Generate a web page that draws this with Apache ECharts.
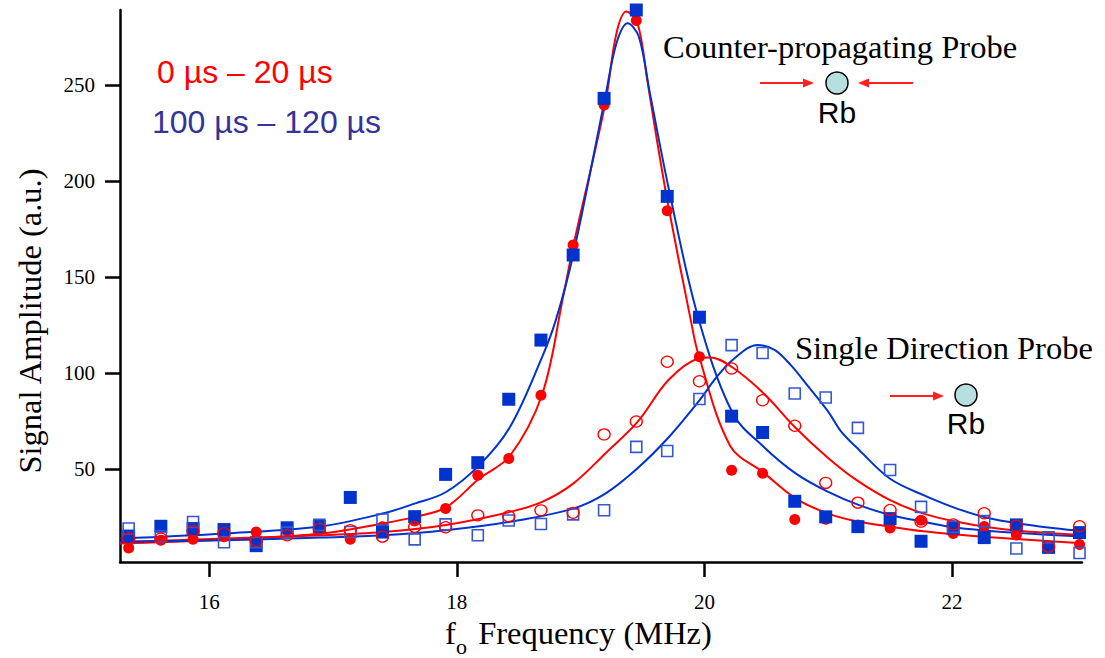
<!DOCTYPE html>
<html>
<head>
<meta charset="utf-8">
<script src="https://cdn.jsdelivr.net/npm/echarts@6/dist/echarts.min.js"></script>
<style>html,body{margin:0;padding:0;background:#fff;}#c{width:1105px;height:658px;}</style>
</head>
<body>
<div id="c"></div>
<script>
// ---- data ----
const freq = [15.35, 15.61, 15.87, 16.12, 16.38, 16.63, 16.89, 17.14, 17.40, 17.66, 17.91, 18.17, 18.42, 18.68, 18.94, 19.19, 19.45, 19.70, 19.96, 20.22, 20.47, 20.73, 20.98, 21.24, 21.50, 21.75, 22.01, 22.26, 22.52, 22.78, 23.03];
// counter-propagating probe, 0-20 us (red filled circles)
const counterEarly = [9.0, 13.0, 13.5, 14.8, 17.3, 18.0, 19.0, 13.5, 20.0, 23.0, 29.6, 46.9, 55.6, 88.5, 166.7, 239.6, 283.5, 184.5, 108.5, 49.5, 47.9, 23.8, 24.0, 21.0, 19.4, 23.4, 16.5, 20.2, 15.8, 9.5, 10.8];
// counter-propagating probe, 100-120 us (blue filled squares)
const counterLate = [15.2, 20.3, 19.1, 18.6, 10.2, 19.5, 20.2, 35.3, 17.3, 25.3, 47.3, 53.4, 86.4, 117.2, 161.5, 243.0, 289.0, 192.0, 129.1, 77.6, 69.1, 33.3, 25.2, 20.1, 24.3, 12.5, 19.4, 14.4, 21.0, 9.3, 17.0];
// single direction probe, 0-20 us (red open circles)
const singleEarly = [13.9, 13.9, 17.8, 16.7, 12.6, 15.6, 18.9, 18.2, 14.9, 20.0, 19.8, 26.0, 25.5, 28.6, 27.3, 68.1, 74.8, 105.9, 95.8, 102.4, 85.9, 72.6, 42.9, 32.6, 28.8, 22.7, 21.2, 27.1, 20.6, 9.7, 20.3];
// single direction probe, 100-120 us (blue open squares)
const singleLate = [19.1, 15.0, 22.5, 12.0, 12.0, 17.0, 21.0, 17.3, 23.8, 13.5, 21.3, 15.6, 23.3, 21.5, 26.5, 28.6, 61.6, 59.5, 86.5, 114.6, 110.5, 89.4, 87.3, 71.5, 49.6, 30.4, 20.0, 23.0, 8.7, 14.5, 6.4];

// fitted curves
const fitCeX = [15.28, 16.13, 16.91, 17.40, 17.66, 17.91, 18.18, 18.43, 18.69, 18.86, 18.94, 19.20, 19.29, 19.37, 19.46, 19.54, 19.62, 19.71, 19.89, 19.95, 20.21, 20.48, 20.74, 21.00, 21.25, 21.51, 21.77, 22.02, 22.28, 22.58, 23.05];
const fitCeY = [11.3, 13.4, 16.5, 21.7, 25.2, 30.0, 45.0, 57.0, 89.0, 140.0, 165.8, 240.6, 276.9, 288.2, 282.1, 252.0, 220.0, 186.6, 127.6, 110.2, 62.0, 48.1, 34.7, 26.9, 22.6, 20.0, 17.7, 16.1, 14.7, 13.4, 11.5];
const fitClX = [15.28, 16.13, 16.91, 17.40, 17.66, 17.91, 18.18, 18.43, 18.69, 18.80, 18.94, 19.20, 19.29, 19.38, 19.47, 19.56, 19.72, 19.95, 20.23, 20.48, 20.74, 21.00, 21.25, 21.51, 21.77, 22.02, 22.28, 22.58, 23.05];
const fitClY = [13.9, 16.5, 20.3, 26.9, 32.1, 38.0, 52.0, 72.0, 108.5, 127.6, 161.5, 243.9, 271.7, 282.1, 275.2, 245.7, 193.6, 129.0, 79.0, 61.6, 47.7, 38.2, 31.3, 26.0, 22.6, 19.6, 18.0, 16.6, 15.0];
const fitSeX = [15.28, 16.13, 16.91, 17.40, 17.91, 18.43, 18.69, 18.94, 19.20, 19.46, 19.71, 19.95, 20.05, 20.22, 20.48, 20.73, 20.99, 21.23, 21.50, 21.77, 22.04, 22.31, 22.58, 23.05];
const fitSeY = [12.1, 13.9, 15.6, 17.3, 21.0, 27.8, 33.0, 42.5, 58.2, 74.6, 96.4, 107.6, 108.2, 103.3, 89.4, 72.0, 56.4, 44.3, 33.9, 26.9, 22.6, 19.6, 17.7, 15.7];
const fitSlX = [15.28, 16.13, 16.91, 17.40, 17.91, 18.43, 18.94, 19.20, 19.46, 19.71, 19.95, 20.10, 20.23, 20.43, 20.57, 20.70, 20.84, 21.00, 21.10, 21.25, 21.50, 21.77, 22.04, 22.31, 22.58, 22.85, 23.05];
const fitSlY = [12.3, 13.0, 14.4, 15.6, 18.2, 22.6, 29.5, 37.3, 50.5, 66.5, 85.0, 98.0, 107.0, 114.6, 112.0, 104.0, 93.0, 80.0, 70.0, 60.0, 45.0, 36.5, 29.5, 24.3, 21.4, 19.1, 17.8];

const xTicks = [16, 18, 20, 22];
const yTicks = [50, 100, 150, 200, 250];
const legendTexts = ['0 µs – 20 µs', '100 µs – 120 µs'];

// ---- chart ----
const RED = '#ff0000';
const BLUE = '#0033cc';
const BLUE_OPEN = '#3358d0';
const SERIF = "'Liberation Serif', 'Times New Roman', serif";
const SANS = "'Liberation Sans', Arial, sans-serif";

const pairs = (xs, ys) => xs.map((x, i) => [x, ys[i]]);

const chart = echarts.init(document.getElementById('c'), null, {renderer: 'svg'});

function arrow(x1, x2, y) {
  const dir = x2 > x1 ? 1 : -1;
  const head = 11, hw = 4.5;
  return [
    {type: 'line', shape: {x1: x1, y1: y, x2: x2 - dir * head, y2: y}, style: {stroke: '#ff2020', lineWidth: 2}},
    {type: 'polygon', shape: {points: [[x2, y], [x2 - dir * head, y - hw], [x2 - dir * head, y + hw]]}, style: {fill: '#ff2020'}}
  ];
}

const lineSeries = (data, color) => ({
  type: 'line', data: data, smooth: 0.35, symbol: 'none',
  lineStyle: {color: color, width: 2}, z: 2, silent: true
});

chart.setOption({
  animation: false,
  backgroundColor: '#fff',
  grid: {left: 120, right: 23, top: 10, bottom: 96},
  xAxis: {
    type: 'value', min: 15.28, max: 23.05,
    axisLine: {show: true, onZero: false, lineStyle: {color: '#000', width: 2.5}},
    axisTick: {show: true, inside: false, length: 15, lineStyle: {color: '#000', width: 2.5}, customValues: xTicks},
    axisLabel: {show: true, margin: 29, color: '#000', fontFamily: 'Liberation Serif', fontSize: 21, customValues: xTicks},
    splitLine: {show: false}
  },
  yAxis: {
    type: 'value', min: 1.7, max: 289,
    axisLine: {show: true, onZero: false, lineStyle: {color: '#000', width: 2.5}},
    axisTick: {show: true, inside: false, length: 15, lineStyle: {color: '#000', width: 2.5}, customValues: yTicks},
    axisLabel: {show: true, margin: 25, color: '#000', fontFamily: 'Liberation Serif', fontSize: 21, customValues: yTicks},
    splitLine: {show: false}
  },
  graphic: [
    {type: 'text', x: 30, y: 321, rotation: Math.PI / 2, style: {text: 'Signal Amplitude (a.u.)', font: '32.5px ' + SERIF, fill: '#000', align: 'center', verticalAlign: 'middle'}},
    {type: 'text', x: 445, y: 633, style: {text: 'f', font: '32.5px ' + SERIF, fill: '#000', align: 'left', verticalAlign: 'middle'}},
    {type: 'text', x: 456, y: 646, style: {text: 'o', font: '22px ' + SERIF, fill: '#000', align: 'left', verticalAlign: 'middle'}},
    {type: 'text', x: 470, y: 633, style: {text: ' Frequency (MHz)', font: '32.5px ' + SERIF, fill: '#000', align: 'left', verticalAlign: 'middle'}},
    {type: 'text', x: 157, y: 72, style: {text: legendTexts[0], font: '32px ' + SANS, fill: RED, align: 'left', verticalAlign: 'middle'}},
    {type: 'text', x: 152, y: 122, style: {text: legendTexts[1], font: '32px ' + SANS, fill: '#333399', align: 'left', verticalAlign: 'middle'}},
    {type: 'text', x: 663, y: 47, style: {text: 'Counter-propagating Probe', font: '32.5px ' + SERIF, fill: '#000', align: 'left', verticalAlign: 'middle'}},
    {type: 'text', x: 795, y: 348, style: {text: 'Single Direction Probe', font: '32.5px ' + SERIF, fill: '#000', align: 'left', verticalAlign: 'middle'}},
    {type: 'circle', shape: {cx: 837, cy: 83, r: 11}, style: {fill: '#b8dfe0', stroke: '#000', lineWidth: 1.5}},
    {type: 'circle', shape: {cx: 966, cy: 395, r: 11}, style: {fill: '#b8dfe0', stroke: '#000', lineWidth: 1.5}},
    {type: 'text', x: 837, y: 112, style: {text: 'Rb', font: '30px ' + SANS, fill: '#000', align: 'center', verticalAlign: 'middle'}},
    {type: 'text', x: 966, y: 423, style: {text: 'Rb', font: '30px ' + SANS, fill: '#000', align: 'center', verticalAlign: 'middle'}}
  ].concat(arrow(760, 814, 83), arrow(913, 858, 83), arrow(890, 944, 396)),
  series: [
    lineSeries(pairs(fitCeX, fitCeY), RED),
    lineSeries(pairs(fitClX, fitClY), BLUE),
    lineSeries(pairs(fitSeX, fitSeY), RED),
    lineSeries(pairs(fitSlX, fitSlY), BLUE),
    {type: 'scatter', data: pairs(freq, counterEarly), symbol: 'circle', symbolSize: 11, clip: false, z: 3,
     itemStyle: {color: RED, opacity: 1}},
    {type: 'scatter', data: pairs(freq, counterLate), symbol: 'rect', symbolSize: 13, clip: false, z: 4,
     itemStyle: {color: BLUE, opacity: 1}},
    {type: 'scatter', data: pairs(freq, singleLate), symbol: 'rect', symbolSize: 11, clip: false, z: 5,
     itemStyle: {color: 'rgba(255,255,255,0)', borderColor: BLUE_OPEN, borderWidth: 1.6, opacity: 1}},
    {type: 'scatter', data: pairs(freq, singleEarly), symbol: 'circle', symbolSize: [12, 11], clip: false, z: 6,
     itemStyle: {color: 'rgba(255,255,255,0)', borderColor: RED, borderWidth: 1.3, opacity: 1}}
  ]
});
</script>
</body>
</html>
